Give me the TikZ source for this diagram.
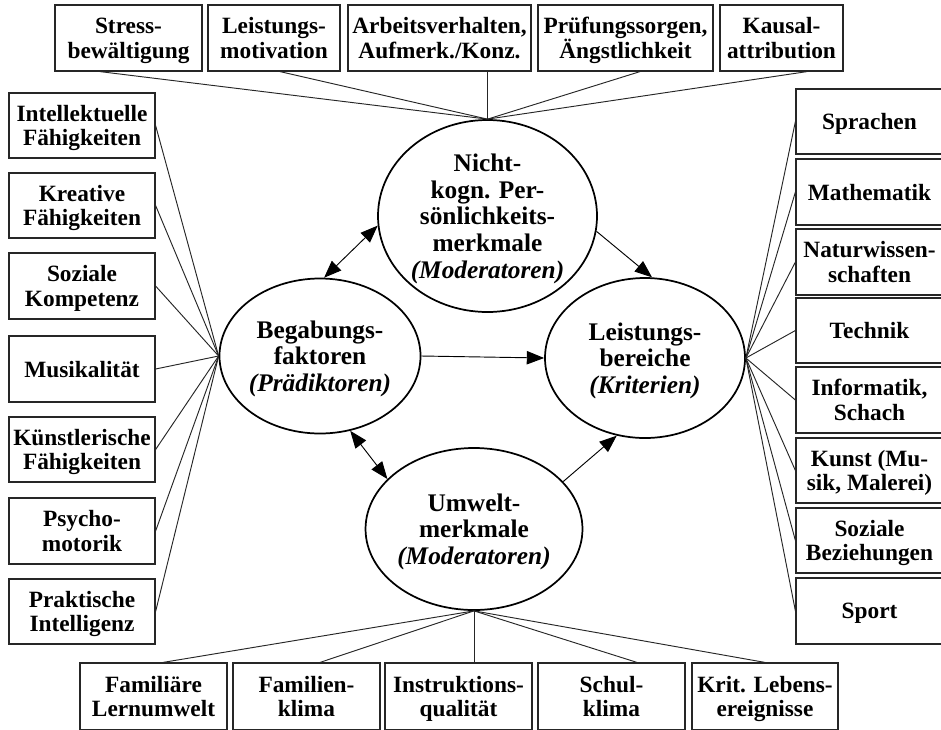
\documentclass[tikz,border=0pt]{standalone}
\usepackage{fontspec}
\setmainfont{Liberation Serif}
\usetikzlibrary{arrows.meta,shapes.geometric,calc}
\begin{document}
\begin{tikzpicture}[x=0.75pt,y=-0.75pt,
  box/.style 2 args={draw=black!85, line width=0.9pt, inner sep=0pt,
    minimum width=#1*0.75pt, minimum height=#2*0.75pt, align=center,
    text depth=0pt, font=\fontsize{17.5}{18.5}\selectfont\bfseries, text=black},
  ell/.style 2 args={ellipse, draw, line width=1.3pt, inner sep=0pt,
    minimum width=#1*0.75pt, minimum height=#2*0.75pt, align=center,
    text depth=0pt, font=\fontsize{19}{20}\selectfont\bfseries},
  con/.style={line width=0.7pt, black!85},
  arr/.style={line width=0.7pt, -{Triangle[length=13pt,width=10pt]}},
  darr/.style={line width=0.7pt, {Triangle[length=13pt,width=10pt]}-{Triangle[length=13pt,width=10pt]}}]
\useasboundingbox (0,0) rectangle (941,729);
\fill[white] (0,0) rectangle (941,729);

% ellipses
\node[ell={219}{192}] (N) at (487.5,216) {Nicht-\\kogn. Per-\\sönlichkeits-\\merkmale\\\textit{(Moderatoren)}};
\node[ell={200}{155}] (B) at (320,356) {Begabungs-\\faktoren\\\textit{(Prädiktoren)}};
\node[ell={200}{160}] (L) at (645,358) {Leistungs-\\bereiche\\\textit{(Kriterien)}};
\node[ell={203}{162}] (U) at (474,529) {Umwelt-\\merkmale\\\textit{(Moderatoren)}};

% top boxes
\node[box={147}{66}] (s1) at (128.5,38) {Stress-\\bewältigung};
\node[box={132}{66}] (s2) at (274,38) {Leistungs-\\motivation};
\node[box={183}{66}] (s3) at (439.5,38) {Arbeitsverhalten,\\Aufmerk./Konz.};
\node[box={175}{66}] (s4) at (625.5,38) {Prüfungssorgen,\\Ängstlichkeit};
\node[box={123}{66}] (s5) at (781.5,38) {Kausal-\\attribution};

% left boxes
\node[box={146}{65}] (l1) at (82,125.5) {Intellektuelle\\Fähigkeiten};
\node[box={146}{65}] (l2) at (82,205.5) {Kreative\\Fähigkeiten};
\node[box={146}{66}] (l3) at (82,286) {Soziale\\Kompetenz};
\node[box={146}{66}] (l4) at (82,369) {Musikalität};
\node[box={146}{65}] (l5) at (82,449.5) {Künstlerische\\Fähigkeiten};
\node[box={146}{66}] (l6) at (82,531) {Psycho-\\motorik};
\node[box={146}{65}] (l7) at (82,611.5) {Praktische\\Intelligenz};

% right boxes
\node[box={147}{65}] (r1) at (869.5,121.5) {Sprachen};
\node[box={147}{66}] (r2) at (869.5,192) {Mathematik};
\node[box={147}{66}] (r3) at (869.5,262) {Naturwissen-\\schaften};
\node[box={147}{65}] (r4) at (869.5,330.5) {Technik};
\node[box={147}{66}] (r5) at (869.5,400) {Informatik,\\Schach};
\node[box={147}{65}] (r6) at (869.5,470.5) {Kunst (Mu-\\sik, Malerei)};
\node[box={147}{65}] (r7) at (869.5,540.5) {Soziale\\Beziehungen};
\node[box={147}{66}] (r8) at (869.5,611) {Sport};

% bottom boxes
\node[box={147}{67}] (b1) at (153.5,696.5) {Familiäre\\Lernumwelt};
\node[box={147}{67}] (b2) at (306.5,696.5) {Familien-\\klima};
\node[box={147}{67}] (b3) at (458.5,696.5) {Instruktions-\\qualität};
\node[box={147}{67}] (b4) at (611.5,696.5) {Schul-\\klima};
\node[box={146}{67}] (b5) at (765,696.5) {Krit. Lebens-\\ereignisse};

% connectors top
\draw[con] ($(s1.south)+(-28.5,0)$) -- (N.north);
\draw[con] ($(s2.south)+(6,0)$) -- (N.north);
\draw[con] (N.north |- s3.south) -- (N.north);
\draw[con] ($(s4.south)+(14.5,0)$) -- (N.north);
\draw[con] ($(s5.south)+(25.5,0)$) -- (N.north);

% connectors left
\foreach \i in {l1,l2,l3,l4,l5,l6,l7} \draw[con] (\i.east) -- (B.west);
% connectors right
\foreach \i in {r1,r2,r3,r4,r5,r6,r7,r8} \draw[con] (\i.west) -- (L.east);

% connectors bottom
\draw[con] ($(b1.north)+(9.5,0)$) -- (U.south);
\draw[con] ($(b2.north)+(13.5,0)$) -- (U.south);
\draw[con] (U.south |- b3.north) -- (U.south);
\draw[con] ($(b4.north)+(25.5,0)$) -- (U.south);
\draw[con] (b5.north) -- (U.south);

% arrows between ellipses
\draw[darr] (B.87) -- (N.185);
\draw[arr] (N.-8) -- (L.85);
\draw[arr] (B.east) -- (L.west);
\draw[darr] (B.-68) -- (U.150);
\draw[arr] (U.28) -- (L.250);
\end{tikzpicture}
\end{document}
